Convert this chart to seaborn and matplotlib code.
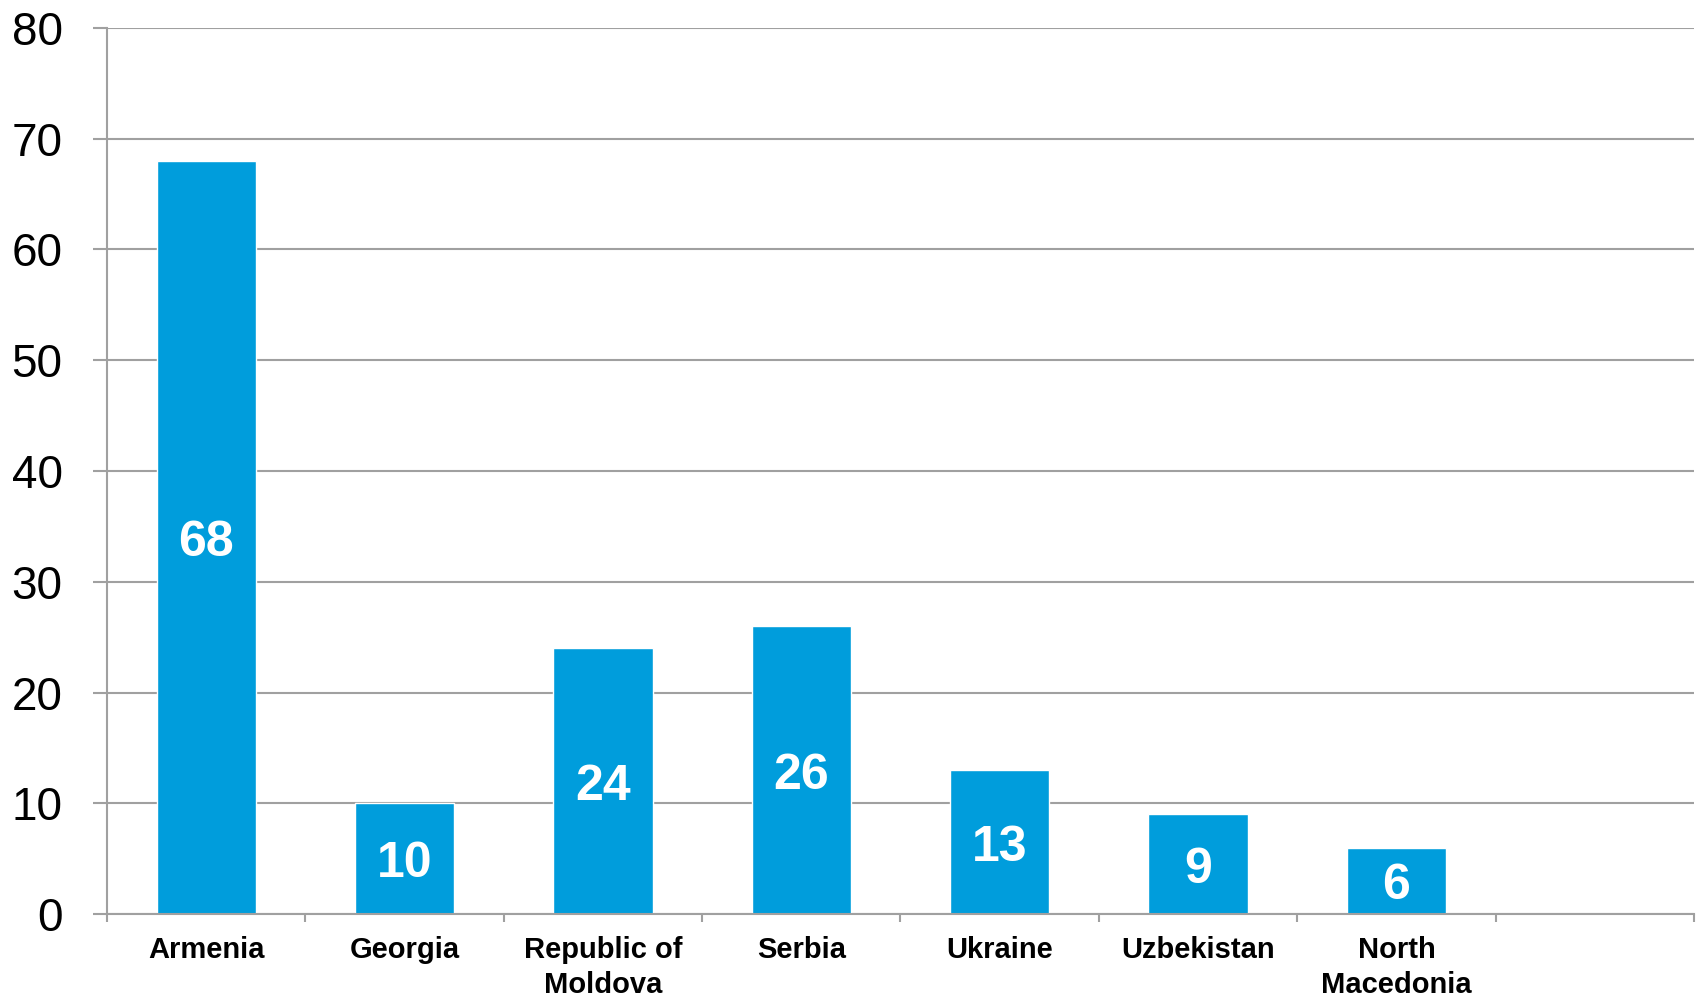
import matplotlib
matplotlib.use("Agg")
import matplotlib.pyplot as plt
import seaborn as sns
import pandas as pd
import numpy as np

countries = ["Armenia", "Georgia", "Republic of\nMoldova", "Serbia", "Ukraine", "Uzbekistan", "North\nMacedonia"]
values = [68, 10, 24, 26, 13, 9, 6]
yticks = [0, 10, 20, 30, 40, 50, 60, 70, 80]

sns.set_theme(style="white")
plt.rcParams['font.family'] = ['Liberation Sans', 'DejaVu Sans']

df = pd.DataFrame({"country": countries, "value": values})

fig = plt.figure(figsize=(16.96, 9.96), dpi=100)
ax = fig.add_axes([107/1696, 1-914/996, (1694-107)/1696, (914-28)/996])

bar_color = "#009DDC"
sns.barplot(data=df, x="country", y="value", order=countries, color=bar_color,
            width=0.5, saturation=1, ax=ax, zorder=3)

ax.set_xlim(-0.5, len(countries) + 0.5)
ax.set_ylim(0, 80)
ax.set_yticks(yticks)
ax.set_yticklabels([str(t) for t in yticks], fontsize=33)
ax.set_xlabel("")
ax.set_ylabel("")

grid_c = "#A0A0A0"
ax.yaxis.grid(True, color=grid_c, linewidth=1.5, zorder=0)
ax.xaxis.grid(False)
for s in ["top", "right"]:
    ax.spines[s].set_visible(False)
for s in ["left", "bottom"]:
    ax.spines[s].set_color(grid_c)
    ax.spines[s].set_linewidth(1.5)
    ax.spines[s].set_zorder(4)

ax.tick_params(axis="y", which="major", length=10, width=1.5, color=grid_c,
               left=True, pad=22, labelcolor="black")
ax.set_xticks(range(len(countries)))
ax.set_xticklabels(countries, fontsize=21, fontweight="bold", linespacing=1.3)
ax.tick_params(axis="x", which="major", length=0, pad=16, labelcolor="black")
ax.set_xticks(np.arange(-0.5, len(countries) + 1, 1.0), minor=True)
ax.tick_params(axis="x", which="minor", length=6, width=1.5, color=grid_c, bottom=True)
for lbl in ax.get_xticklabels():
    lbl.set_verticalalignment("top")

for cont in ax.containers:
    for bar, v in zip(cont, values):
        ax.annotate(str(v), (bar.get_x() + bar.get_width()/2, bar.get_height()/2),
                    xytext=(0, -4), textcoords="offset points",
                    ha="center", va="center", color="white", fontsize=36,
                    fontweight="bold", zorder=5)

fig.savefig("out.png", dpi=100)
